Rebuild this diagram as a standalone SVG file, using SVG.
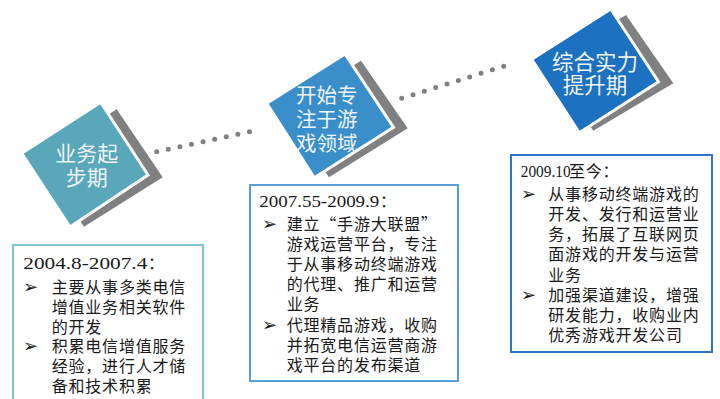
<svg xmlns="http://www.w3.org/2000/svg" width="720" height="399" viewBox="0 0 720 399">
<style>
.bg{fill:#ffffff}
.shadow{fill:#808080}
.dtxt{font-family:"Noto Sans CJK SC","Liberation Sans",sans-serif;fill:#eef3f7;text-anchor:middle}
.box{fill:#ffffff;stroke-width:2}
.t{font-family:"Noto Sans CJK SC","Liberation Serif",sans-serif;font-size:16px;letter-spacing:0.8px;fill:#1a1a1a}
.d{font-family:"Liberation Serif","Noto Sans CJK SC",serif;font-size:17px;fill:#1a1a1a}
.b{font-family:"DejaVu Sans",sans-serif;font-size:18px;fill:#1a1a1a}
.dots{fill:none;stroke:#808080;stroke-width:5;stroke-linecap:round}
</style>
<rect class="bg" x="0" y="0" width="720" height="399"/>

<g id="connectors">
  <path class="dots" d="M156.7,151.7 L261,129.3" stroke-dasharray="0 11.86"/>
  <path class="dots" d="M401.7,98.3 L515,62.7" stroke-dasharray="0 11.88"/>
</g>

<g id="phase1">
  <polygon class="shadow" points="116.7,109.3 162.7,177.3 84,226.7 38,158.7"/>
  <polygon points="100.7,102.3 148,175 70,227 21.7,153.3" fill="#5AA7B9" stroke="#ffffff" stroke-width="3"/>
  <text class="dtxt" font-size="21"><tspan x="86.7" y="161.3">业务起</tspan><tspan x="86.7" y="184.7">步期</tspan></text>
</g>

<g id="phase2">
  <polygon class="shadow" points="361,60.7 407.7,128.3 329,177.3 282.3,109.7"/>
  <polygon points="345,54 393.5,127.3 314.3,177.7 266.7,103.3" fill="#3A8FCB" stroke="#ffffff" stroke-width="3"/>
  <text class="dtxt" font-size="20.5"><tspan x="326.7" y="103">开始专</tspan><tspan x="326.7" y="127">注于游</tspan><tspan x="326.7" y="151">戏领域</tspan></text>
</g>

<g id="phase3">
  <polygon class="shadow" points="626,15 673.3,83.3 593.3,130.7 546,62.4"/>
  <polygon points="610.7,9 658.5,81.7 579.3,132.7 531.7,59.3" fill="#1C71C0" stroke="#ffffff" stroke-width="3"/>
  <text class="dtxt" font-size="21.5"><tspan x="595" y="69.9">综合实力</tspan><tspan x="595" y="93.2">提升期</tspan></text>
</g>

<g id="box1">
  <rect class="box" x="13" y="245" width="190" height="165" stroke="#7DC2D3"/>
  <text class="d" x="23.3" y="269" textLength="124" lengthAdjust="spacingAndGlyphs">2004.8-2007.4</text>
  <text class="t" x="148" y="269">：</text>
  <text class="b" x="23" y="293">➢</text>
  <text class="t"><tspan x="51.7" y="293">主要从事多类电信</tspan><tspan x="51.7" y="312.8">增值业务相关软件</tspan><tspan x="51.7" y="332.6">的开发</tspan></text>
  <text class="b" x="23" y="352.4">➢</text>
  <text class="t"><tspan x="51.7" y="352.4">积累电信增值服务</tspan><tspan x="51.7" y="372.2">经验，进行人才储</tspan><tspan x="51.7" y="392">备和技术积累</tspan></text>
</g>

<g id="box2">
  <rect class="box" x="250" y="185" width="208" height="196" stroke="#5A9ED7"/>
  <text class="d" x="259.3" y="207" textLength="120" lengthAdjust="spacingAndGlyphs">2007.55-2009.9</text>
  <text class="t" x="380" y="207">：</text>
  <text class="b" x="262" y="229.6">➢</text>
  <text class="t"><tspan x="286.7" y="229.6">建立“手游大联盟”</tspan><tspan x="286.7" y="249.8">游戏运营平台，专注</tspan><tspan x="286.7" y="270">于从事移动终端游戏</tspan><tspan x="286.7" y="290.2">的代理、推广和运营</tspan><tspan x="286.7" y="310.4">业务</tspan></text>
  <text class="b" x="262" y="330.6">➢</text>
  <text class="t"><tspan x="286.7" y="330.6">代理精品游戏，收购</tspan><tspan x="286.7" y="350.8">并拓宽电信运营商游</tspan><tspan x="286.7" y="371">戏平台的发布渠道</tspan></text>
</g>

<g id="box3">
  <rect class="box" x="511" y="155" width="201" height="197" stroke="#2D74C2"/>
  <text class="d" x="520.7" y="177.3" textLength="50" lengthAdjust="spacingAndGlyphs">2009.10</text>
  <text class="t" x="569" y="177.3">至今：</text>
  <text class="b" x="521" y="199.6">➢</text>
  <text class="t"><tspan x="548.3" y="199.6">从事移动终端游戏的</tspan><tspan x="548.3" y="219.8">开发、发行和运营业</tspan><tspan x="548.3" y="240.1">务，拓展了互联网页</tspan><tspan x="548.3" y="260.3">面游戏的开发与运营</tspan><tspan x="548.3" y="280.6">业务</tspan></text>
  <text class="b" x="521" y="300.8">➢</text>
  <text class="t"><tspan x="548.3" y="300.8">加强渠道建设，增强</tspan><tspan x="548.3" y="321">研发能力，收购业内</tspan><tspan x="548.3" y="341.3">优秀游戏开发公司</tspan></text>
</g>
</svg>
